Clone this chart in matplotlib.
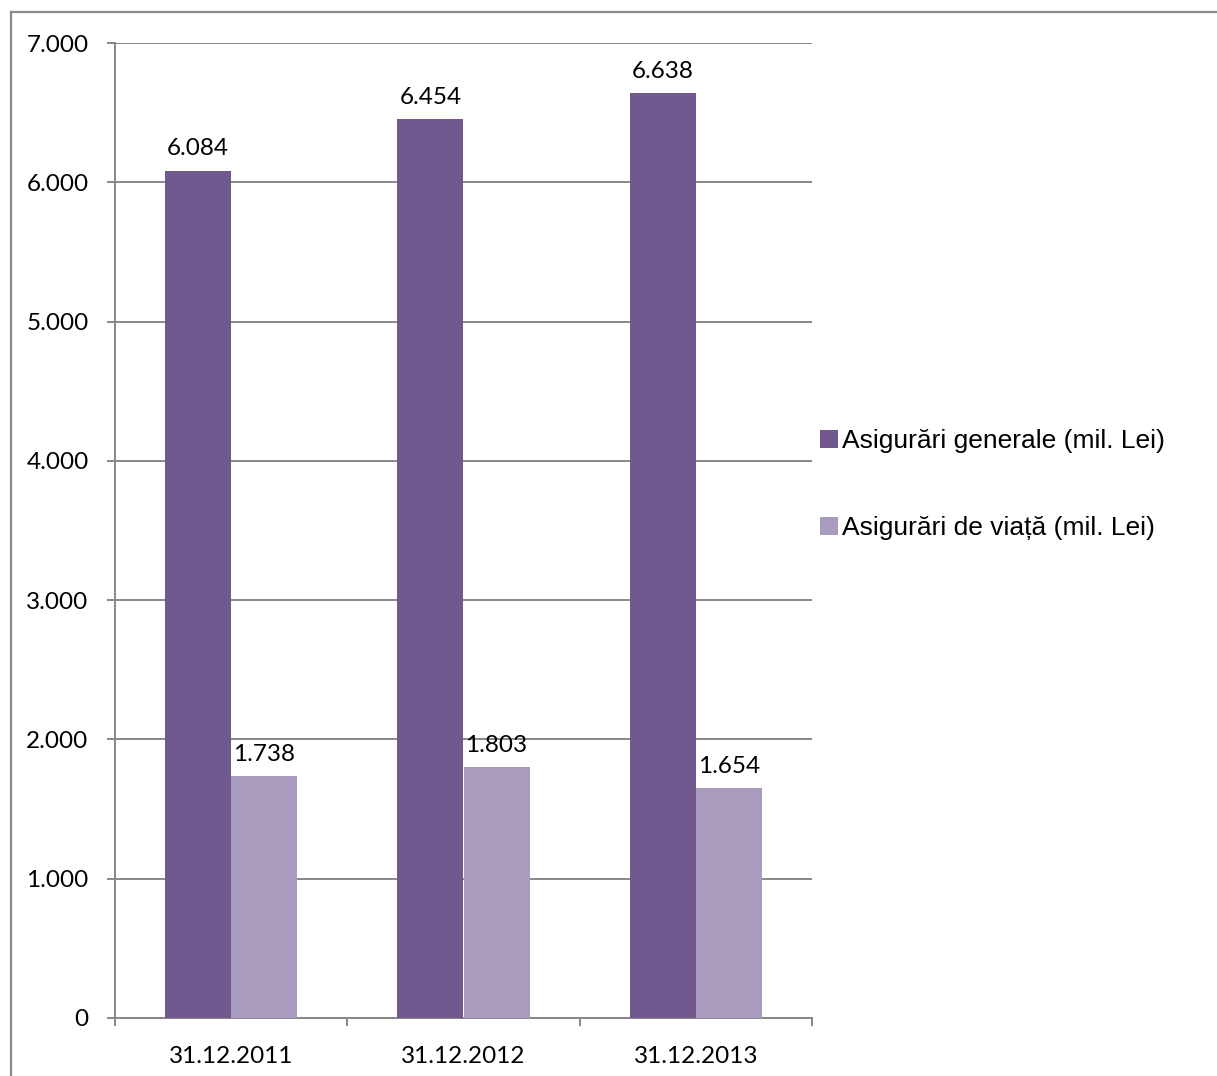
import matplotlib
matplotlib.use("Agg")
import matplotlib.pyplot as plt
from matplotlib.lines import Line2D
from matplotlib.ticker import FuncFormatter, FixedLocator

categories = ["31.12.2011", "31.12.2012", "31.12.2013"]
generale = [6084, 6454, 6638]
viata = [1738, 1803, 1654]
series_names = ["Asigurări generale (mil. Lei)", "Asigurări de viață (mil. Lei)"]
yticks = [0, 1000, 2000, 3000, 4000, 5000, 6000, 7000]

c_dark = "#71588F"
c_light = "#A99BBD"
grid_c = "#878787"

W, H = 1217, 1076
fig = plt.figure(figsize=(W / 100, H / 100), dpi=100)
ax = fig.add_axes([115 / W, 1 - 1018 / H, (812 - 115) / W, (1018 - 43) / H])

def fmt(v):
    s = f"{int(round(v)):,}".replace(",", ".")
    return s

x = list(range(len(categories)))
bw = 0.285
b1 = ax.bar([i - bw / 2 for i in x], generale, width=bw, color=c_dark, label=series_names[0], zorder=3)
b2 = ax.bar([i + bw / 2 for i in x], viata, width=bw, color=c_light, label=series_names[1], zorder=3)

tfont = "Lato"
tsize = 17.5
for bars, vals in ((b1, generale), (b2, viata)):
    for r, v in zip(bars, vals):
        ax.annotate(fmt(v), (r.get_x() + r.get_width() / 2, v), xytext=(0, 8),
                    textcoords="offset points", ha="center", va="bottom",
                    fontsize=tsize, family=tfont, color="#000000")

ax.set_ylim(0, 7000)
ax.set_xlim(-0.5, 2.5)
ax.set_yticks(yticks)
ax.yaxis.set_major_formatter(FuncFormatter(lambda v, p: fmt(v)))
ax.yaxis.grid(True, color=grid_c, linewidth=1.4, zorder=0)
ax.set_axisbelow(True)

ax.xaxis.set_major_locator(FixedLocator([-0.5, 0.5, 1.5, 2.5]))
ax.xaxis.set_major_formatter(FuncFormatter(lambda v, p: ""))
ax.xaxis.set_minor_locator(FixedLocator(x))
ax.set_xticks(x, minor=True)
ax.set_xticklabels(categories, minor=True)
ax.tick_params(axis="x", which="minor", length=0, pad=20)
ax.tick_params(axis="x", which="major", length=6, width=1.4, color=grid_c, direction="out")
ax.tick_params(axis="y", which="major", length=6, width=1.4, color=grid_c, direction="out", pad=13)
for lab in ax.get_xticklabels(minor=True) + ax.get_yticklabels():
    lab.set_fontsize(tsize)
    lab.set_family(tfont)

for s in ("top", "right"):
    ax.spines[s].set_visible(False)
for s in ("left", "bottom"):
    ax.spines[s].set_color(grid_c)
    ax.spines[s].set_linewidth(1.4)

leg = fig.legend(handles=[b1, b2], labels=series_names, loc="upper left",
                 bbox_to_anchor=(820 / W, 1 - 429 / H), frameon=False,
                 prop={"family": "Liberation Sans", "size": 19},
                 handlelength=0.68, handleheight=0.68, handletextpad=0.15,
                 labelspacing=2.4, borderaxespad=0, borderpad=0)

fig.add_artist(Line2D([11 / W, 11 / W], [0, 1 - 12 / H], transform=fig.transFigure,
                      color="#8a8a8a", linewidth=1.6))
fig.add_artist(Line2D([11 / W, 1], [1 - 12 / H, 1 - 12 / H], transform=fig.transFigure,
                      color="#8a8a8a", linewidth=1.6))

fig.savefig("out.png", dpi=100, facecolor="white")
